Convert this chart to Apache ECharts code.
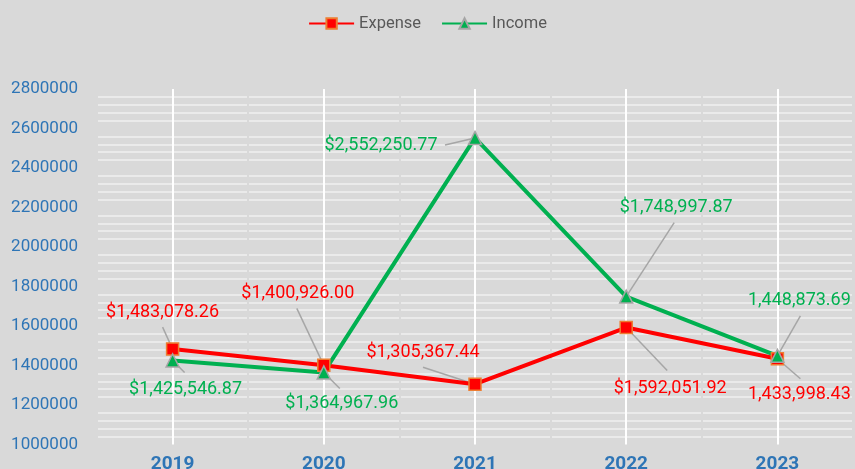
<!DOCTYPE html>
<html>
<head>
<meta charset="utf-8">
<script src="https://cdn.jsdelivr.net/npm/echarts@6/dist/echarts.min.js"></script>
<style>
  html, body { margin: 0; padding: 0; background: #d9d9d9; }
  #chart { width: 855px; height: 469px; }
</style>
</head>
<body>
<div id="chart"></div>
<script>
const years = ['2019', '2020', '2021', '2022', '2023'];
const expense = [1483078.26, 1400926.00, 1305367.44, 1592051.92, 1433998.43];
const income = [1425546.87, 1364967.96, 2552250.77, 1748997.87, 1448873.69];
// the 2023 labels have no dollar sign in the original
const currencySign = ['$', '$', '$', '$', ''];

// where each label sits relative to its point (px)
const expenseLabelShift = [[-10, -37], [-26, -72], [-52, -32], [44, 61], [22, 36]];
const incomeLabelShift = [[13, 29], [18, 31], [-94, 8], [50, -89], [22, -55]];
// far end of each grey leader line, relative to its point (px)
const expenseLeaderEnd = [[-10, -22], [-27, -57], [-52, -17], [41, 43], [23, 20]];
const incomeLeaderEnd = [[12, 12], [16, 16], [-30, 7], [48, -74], [23, -40]];

const fmt = (v, i) => currencySign[i] + v.toLocaleString('en-US', { minimumFractionDigits: 2, maximumFractionDigits: 2 });

const chart = echarts.init(document.getElementById('chart'));

function makeSeries(name, values, color, symbol, borderColor, shifts) {
  return {
    name: name,
    type: 'line',
    z: 3,
    data: values,
    symbol: symbol,
    symbolSize: symbol === 'rect' ? 12 : 13,
    lineStyle: { color: color, width: 4 },
    itemStyle: { color: color, borderColor: borderColor, borderWidth: 1.5 },
    label: {
      show: true,
      position: 'inside',
      color: color,
      fontFamily: 'Roboto',
      fontSize: 18,
      formatter: (p) => fmt(p.value, p.dataIndex)
    },
    labelLayout: (p) => ({ dx: shifts[p.dataIndex][0], dy: shifts[p.dataIndex][1] }),
    emphasis: { disabled: true }
  };
}

// grey leader lines, drawn under the lines and markers
function makeLeaders(values, ends) {
  return {
    type: 'custom',
    z: 2,
    silent: true,
    data: values.map((v, i) => [i, v]),
    encode: { x: 0, y: 1 },
    renderItem: (params, api) => {
      const p = api.coord([api.value(0), api.value(1)]);
      const e = ends[params.dataIndex];
      return {
        type: 'line',
        shape: { x1: p[0], y1: p[1], x2: p[0] + e[0], y2: p[1] + e[1] },
        style: { stroke: '#a6a6a6', lineWidth: 1.5 }
      };
    }
  };
}

const option = {
  backgroundColor: '#d9d9d9',
  animation: false,
  legend: {
    top: 10,
    left: 'center',
    itemWidth: 45,
    itemHeight: 13,
    itemGap: 20,
    textStyle: { color: '#595959', fontFamily: 'Roboto', fontSize: 16.5 },
    data: ['Expense', 'Income']
  },
  grid: { left: 97, right: 2, top: 89, bottom: 24.5, outerBoundsMode: 'none' },
  xAxis: [
    {
      type: 'category',
      data: years,
      boundaryGap: true,
      axisLine: { show: false },
      axisTick: { show: false },
      splitLine: { show: false },
      axisLabel: { color: '#2e75b6', fontFamily: 'Roboto', fontWeight: 'bold', fontSize: 19, margin: 10 }
    },
    {
      // helper axis: white lines at each year, small gaps at the band edges
      type: 'value',
      min: 0,
      max: 10,
      interval: 1,
      z: 1,
      axisLine: { show: false },
      axisTick: { show: false },
      axisLabel: { show: false },
      splitLine: { show: true, lineStyle: { color: ['#d9d9d9', '#ffffff'], width: 2 } }
    }
  ],
  yAxis: {
    type: 'value',
    min: 1000000,
    max: 2800000,
    interval: 200000,
    axisLine: { show: false },
    axisTick: { show: false },
    splitLine: { show: false },
    minorTick: { show: false, splitNumber: 5 },
    minorSplitLine: { show: true, lineStyle: { color: '#f0f0f0', width: 1.5 } },
    axisLabel: { color: '#2e75b6', fontFamily: 'Roboto', fontSize: 17, margin: 19, formatter: (v) => String(v) }
  },
  series: [
    makeLeaders(expense, expenseLeaderEnd),
    makeLeaders(income, incomeLeaderEnd),
    makeSeries('Expense', expense, '#ff0000', 'rect', '#ed7d31', expenseLabelShift),
    makeSeries('Income', income, '#00b050', 'triangle', '#a5a5a5', incomeLabelShift)
  ]
};

chart.setOption(option);
</script>
</body>
</html>
